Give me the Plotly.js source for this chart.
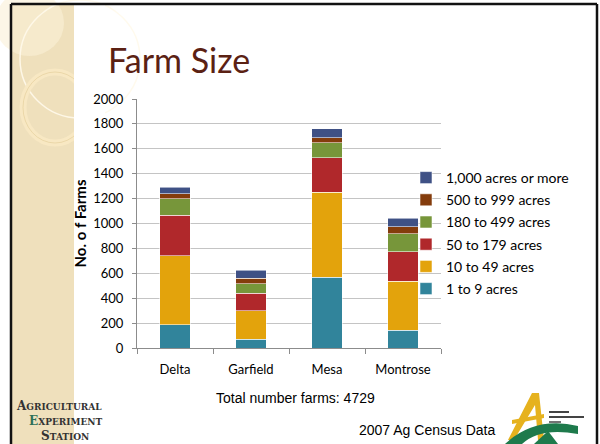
<!DOCTYPE html>
<html>
<head>
<meta charset="utf-8">
<script src="https://cdn.plot.ly/plotly-3.0.1.min.js"></script>
<style>
html,body{margin:0;padding:0;background:#fff;}
#chart{width:600px;height:444px;}
</style>
</head>
<body>
<div id="chart"></div>
<script>
// ---- data ----
var counties = ["Delta", "Garfield", "Mesa", "Montrose"];
var acres1to9      = [187, 70, 570, 142];
var acres10to49    = [552, 230, 681, 393];
var acres50to179   = [329, 139, 278, 239];
var acres180to499  = [129, 78, 118, 142];
var acres500to999  = [43, 43, 43, 56];
var acres1000plus  = [51, 64, 72, 72];
var seriesNames = ["1 to 9 acres", "10 to 49 acres", "50 to 179 acres", "180 to 499 acres", "500 to 999 acres", "1,000 acres or more"];
var yTicks = [0, 200, 400, 600, 800, 1000, 1200, 1400, 1600, 1800, 2000];
var totalFarms = 4729;

var seriesValues = [acres1to9, acres10to49, acres50to179, acres180to499, acres500to999, acres1000plus];
var colors = ["#31849B", "#E3A30C", "#B0282B", "#77963A", "#843C0C", "#3F5185"];

var traces = seriesValues.map(function(v, i){
  return {
    type: "bar", x: counties, y: v, name: seriesNames[i],
    legendgroup: "g" + i, legendrank: 100 - i,
    marker: {color: colors[i], line: {color: "rgba(255,255,255,0.55)", width: 1}},
    hoverinfo: "x+y+name"
  };
});

// plot area in pixels
var L = 137, R = 441, T = 99, B = 348;
function px(x){ return (x - L) / (R - L); }
function py(y){ return (B - y) / (B - T); }

var shapes = [
  // beige strip
  {type:"rect", xref:"paper", yref:"paper", x0:px(12), x1:px(74), y0:py(444), y1:py(4), fillcolor:"#EFE0BC", line:{width:0}, layer:"below"},
  // pale top circle
  {type:"circle", xref:"paper", yref:"paper", x0:px(-5), x1:px(64), y0:py(56), y1:py(-10), fillcolor:"rgba(250,240,215,0.6)", line:{width:0}, layer:"below"},
  // big thin arc
  {type:"circle", xref:"paper", yref:"paper", x0:px(20), x1:px(140), y0:py(118), y1:py(0), fillcolor:"rgba(0,0,0,0)", line:{color:"rgba(255,250,235,0.9)", width:1.5}, layer:"below"},
  // ring
  {type:"circle", xref:"paper", yref:"paper", x0:px(23), x1:px(87), y0:py(143), y1:py(72), fillcolor:"rgba(0,0,0,0)", line:{color:"rgba(248,232,195,0.95)", width:7}, layer:"below"},
  {type:"circle", xref:"paper", yref:"paper", x0:px(23), x1:px(87), y0:py(143), y1:py(72), fillcolor:"rgba(0,0,0,0)", line:{color:"rgba(220,195,140,0.6)", width:0.8}, layer:"below"},
  // white cover right of strip
  {type:"rect", xref:"paper", yref:"paper", x0:px(74), x1:px(105), y0:py(160), y1:py(5), fillcolor:"#FFFFFF", line:{width:0}, layer:"below"},
  // slide border
  {type:"line", xref:"paper", yref:"paper", x0:px(11), x1:px(597), y0:py(4), y1:py(4), line:{color:"#111", width:2.5}, layer:"below"},
  {type:"line", xref:"paper", yref:"paper", x0:px(11), x1:px(11), y0:py(4), y1:py(444), line:{color:"#111", width:2.5}, layer:"below"},
  {type:"line", xref:"paper", yref:"paper", x0:px(597), x1:px(597), y0:py(4), y1:py(444), line:{color:"#111", width:2.5}, layer:"below"},
  // right logo: yellow A
  {type:"path", xref:"paper", yref:"paper", path:"M "+px(508)+" "+py(440)+" L "+px(532)+" "+py(393)+" L "+px(539)+" "+py(393)+" L "+px(544)+" "+py(440)+" L "+px(538)+" "+py(440)+" L "+px(535)+" "+py(405)+" L "+px(514)+" "+py(440)+" Z", fillcolor:"#E6B21E", line:{width:0}},
  {type:"path", xref:"paper", yref:"paper", path:"M "+px(512)+" "+py(420)+" L "+px(544)+" "+py(414)+" L "+px(544)+" "+py(418)+" L "+px(512)+" "+py(424)+" Z", fillcolor:"#E6B21E", line:{width:0}},
  // green arc
  {type:"path", xref:"paper", yref:"paper", path:"M "+px(505)+" "+py(444)+" Q "+px(535)+" "+py(416)+" "+px(578)+" "+py(426)+" L "+px(578)+" "+py(434)+" Q "+px(540)+" "+py(427)+" "+px(522)+" "+py(444)+" Z", fillcolor:"#1E7A4C", line:{width:0}},
  {type:"path", xref:"paper", yref:"paper", path:"M "+px(534)+" "+py(444)+" L "+px(548)+" "+py(431)+" L "+px(558)+" "+py(444)+" Z", fillcolor:"#1E7A4C", line:{width:0}},
  // small text lines in logo
  {type:"line", xref:"paper", yref:"paper", x0:px(549), x1:px(569), y0:py(412), y1:py(412), line:{color:"#444", width:2}},
  {type:"line", xref:"paper", yref:"paper", x0:px(549), x1:px(584), y0:py(417), y1:py(417), line:{color:"#444", width:2}},
  {type:"line", xref:"paper", yref:"paper", x0:px(549), x1:px(561), y0:py(422), y1:py(422), line:{color:"#444", width:1.5}}
];

var logoFont = "DejaVu Serif, serif";
var annotations = [
  {text:"Total number farms: " + totalFarms, xref:"paper", yref:"paper", x:px(295), y:py(398), xanchor:"center", yanchor:"middle", showarrow:false, font:{family:"Liberation Sans, Arial, sans-serif", size:14, color:"#000"}},
  {text:"2007 Ag Census Data", xref:"paper", yref:"paper", x:px(497), y:py(430), xanchor:"right", yanchor:"middle", showarrow:false, font:{family:"Liberation Sans, Arial, sans-serif", size:14, color:"#000"}},
  // left logo (three non-overlapping lines)
  {text:"<b><span style='font-size:12px'>A</span>GRICULTURAL</b>", xref:"paper", yref:"paper", x:px(15), y:py(406), xanchor:"left", yanchor:"middle", showarrow:false, borderpad:0, font:{family:logoFont, size:9, color:"#333"}},
  {text:"<b><span style='font-size:12px;color:#2E7058'>E</span>XPERIMENT</b>", xref:"paper", yref:"paper", x:px(28), y:py(421), xanchor:"left", yanchor:"middle", showarrow:false, borderpad:0, font:{family:logoFont, size:9, color:"#333"}},
  {text:"<b><span style='font-size:12px'>S</span>TATION</b>", xref:"paper", yref:"paper", x:px(40), y:py(436), xanchor:"left", yanchor:"middle", showarrow:false, borderpad:0, font:{family:logoFont, size:9, color:"#333"}}
];

var layout = {
  width: 600, height: 444,
  margin: {l: L, r: 600 - R, t: T, b: 444 - B, pad: 0},
  paper_bgcolor: "#FFFFFF", plot_bgcolor: "rgba(0,0,0,0)",
  barmode: "stack", bargap: 0.6,
  font: {family: "Lato, 'Open Sans', sans-serif", size: 13, color: "#000"},
  title: {text: "Farm Size", x: 108/600, xref: "container", xanchor: "left", y: 1 - 61/444, yref: "container", yanchor: "middle",
          font: {family: "Lato, sans-serif", size: 34, color: "#5B2113"}},
  xaxis: {
    type: "category", showgrid: false, showline: true, linecolor: "#8C8C8C", linewidth: 1,
    ticks: "outside", tickson: "boundaries", ticklen: 5, tickcolor: "#8C8C8C",
    tickfont: {family: "Lato, sans-serif", size: 13, color: "#000"}, ticklabelstandoff: 9, fixedrange: true
  },
  yaxis: {
    range: [0, 2000], tickvals: yTicks, showgrid: true, gridcolor: "#C4C4C4", gridwidth: 1,
    showline: true, linecolor: "#8C8C8C", linewidth: 1, zeroline: false,
    ticks: "outside", ticklen: 4, tickcolor: "#8C8C8C",
    tickfont: {family: "Lato, sans-serif", size: 13, color: "#000"}, ticklabelstandoff: 6,
    title: {text: "<b>No. o f Farms</b>", standoff: 2, font: {family: "Lato, sans-serif", size: 15, color: "#000"}},
    fixedrange: true
  },
  legend: {
    x: px(406), y: py(162), xanchor: "left", yanchor: "top", traceorder: "grouped",
    tracegroupgap: 1, itemwidth: 30, bgcolor: "rgba(0,0,0,0)",
    font: {family: "Lato, sans-serif", size: 14, color: "#000"}
  },
  shapes: shapes,
  annotations: annotations
};

Plotly.newPlot("chart", traces, layout, {displayModeBar: false, staticPlot: true});
</script>
</body>
</html>
